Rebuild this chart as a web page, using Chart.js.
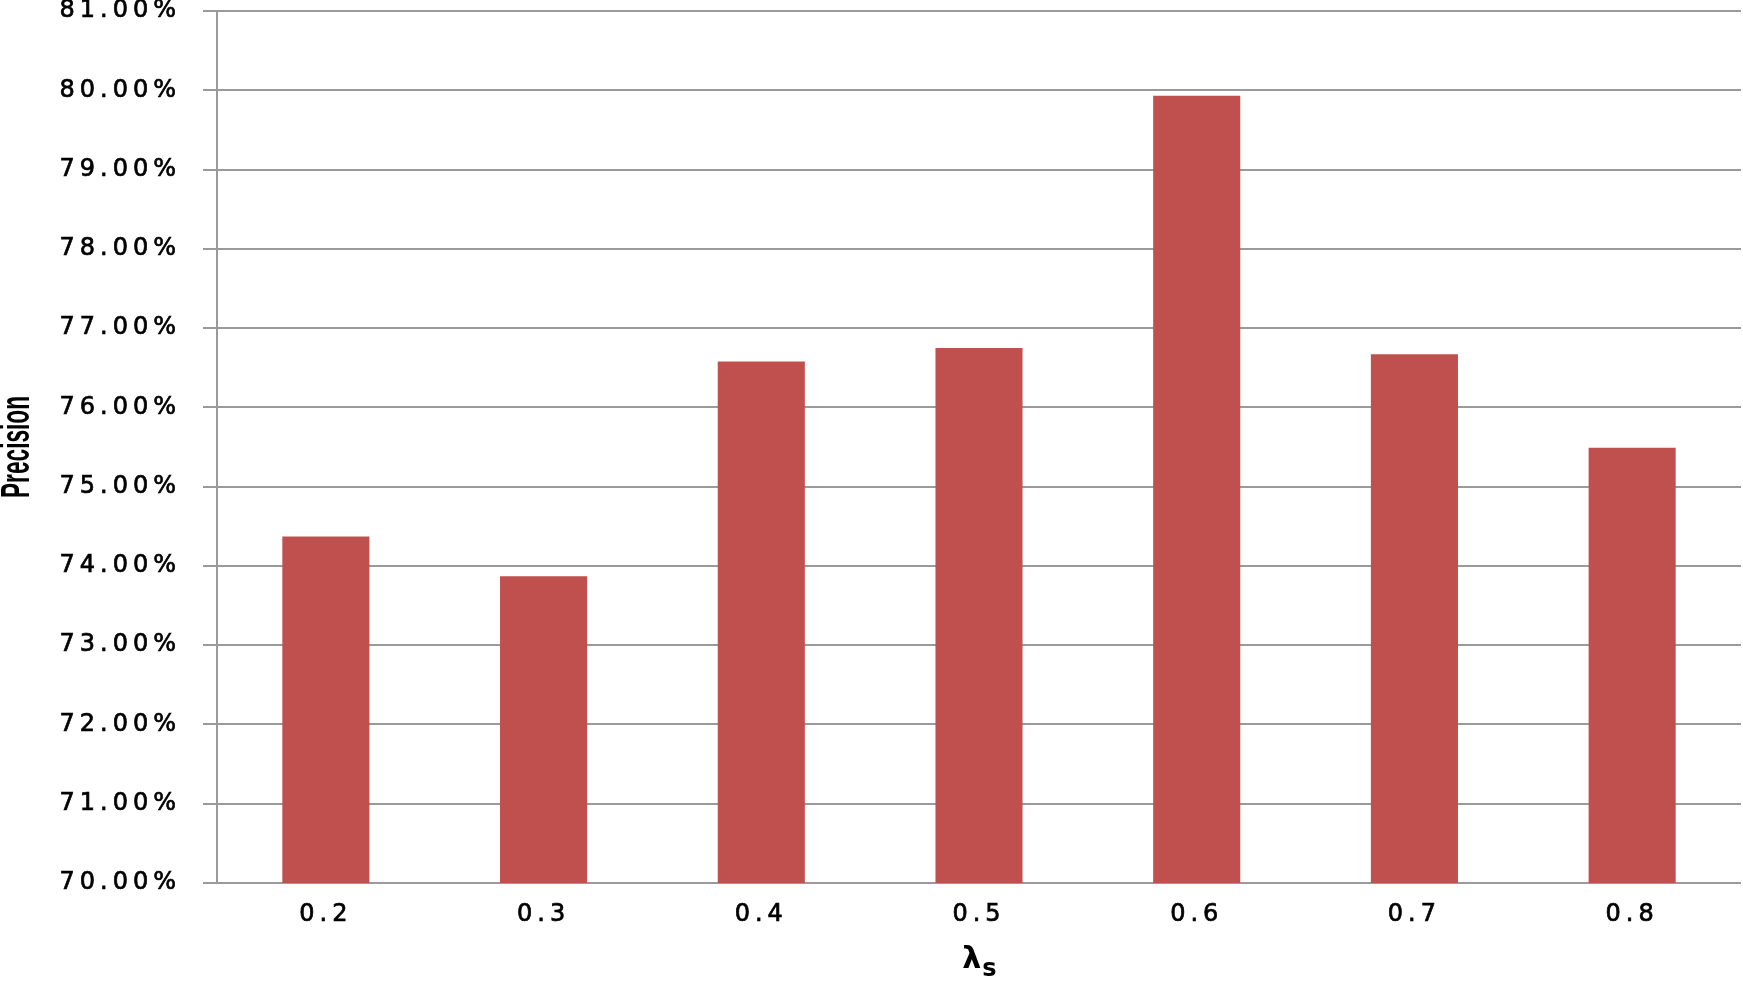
<!DOCTYPE html>
<html>
<head>
<meta charset="utf-8">
<script src="https://cdn.jsdelivr.net/npm/chart.js@4.4.0/dist/chart.umd.min.js"></script>
<style>
  html, body { margin: 0; padding: 0; background: #fff; }
  #wrap { width: 1743px; height: 987px; position: relative; }
</style>
</head>
<body>
<div id="wrap"><canvas id="precisionChart"></canvas></div>
<script>
// lambda_s values on the x axis
const categories = ['0.2', '0.3', '0.4', '0.5', '0.6', '0.7', '0.8'];
// precision (%)
const precision = [74.37, 73.87, 76.58, 76.75, 79.93, 76.67, 75.49];
// y axis range
const yMin = 70;
const yMax = 81;
const yStep = 1;
// axis titles
const yTitle = 'Precision';
const xTitleMain = 'λ';
const xTitleSub = 's';

const GRID = '#9a9a9a';
const TICK_FONT = { family: "'DejaVu Sans', sans-serif", size: 24 };
const SPACING = '5px';

// wide tick labels via letter spacing
const spacingPlugin = {
  id: 'spacing',
  beforeLayout(chart) { chart.ctx.letterSpacing = SPACING; },
  beforeDraw(chart) { chart.ctx.letterSpacing = SPACING; }
};

// axis titles: condensed "Precision" and lambda with subscript s
const titlesPlugin = {
  id: 'titles',
  afterDraw(chart) {
    const { ctx, chartArea } = chart;
    ctx.save();
    ctx.letterSpacing = '0px';
    ctx.fillStyle = '#000';

    // y title, squeezed horizontally like the original condensed font
    ctx.font = "bold 40px 'Liberation Sans', sans-serif";
    const w = ctx.measureText(yTitle).width;
    const cy = (chartArea.top + chartArea.bottom) / 2;
    ctx.save();
    ctx.translate(18, cy);
    ctx.rotate(-Math.PI / 2);
    ctx.scale(102 / w, 1);
    ctx.textAlign = 'center';
    ctx.textBaseline = 'middle';
    ctx.fillText(yTitle, 0, 0);
    ctx.restore();

    // x title
    const cx = (chartArea.left + chartArea.right) / 2;
    const mainFont = "bold 30px 'DejaVu Sans', sans-serif";
    const subFont = "bold 24px 'DejaVu Sans', sans-serif";
    ctx.font = mainFont;
    const wl = ctx.measureText(xTitleMain).width;
    ctx.font = subFont;
    const ws = ctx.measureText(xTitleSub).width;
    const x0 = cx - (wl + ws) / 2;
    ctx.textAlign = 'left';
    ctx.textBaseline = 'alphabetic';
    ctx.font = mainFont;
    ctx.fillText(xTitleMain, x0, 968);
    ctx.font = subFont;
    ctx.fillText(xTitleSub, x0 + wl + 1, 976);
    ctx.restore();
  }
};

const ctx = document.getElementById('precisionChart').getContext('2d');
new Chart(ctx, {
  type: 'bar',
  data: {
    labels: categories,
    datasets: [{
      label: 'Precision',
      data: precision,
      backgroundColor: '#c0504d',
      borderWidth: 0,
      barPercentage: 0.4,
      categoryPercentage: 1.0
    }]
  },
  options: {
    responsive: true,
    maintainAspectRatio: false,
    animation: false,
    layout: { padding: { top: 11, right: 2, left: 0, bottom: 0 } },
    plugins: {
      legend: { display: false },
      tooltip: { enabled: false }
    },
    scales: {
      x: {
        grid: { display: false, drawTicks: false },
        border: { display: false },
        ticks: { color: '#000', font: TICK_FONT, padding: 17, textStrokeColor: '#000', textStrokeWidth: 0.7 },
        afterFit(scale) { scale.height = 104; }
      },
      y: {
        min: yMin,
        max: yMax,
        grid: { color: GRID, lineWidth: 2, tickLength: 14, drawTicks: true },
        border: { display: true, color: GRID, width: 2 },
        ticks: {
          stepSize: yStep,
          color: '#000',
          font: TICK_FONT,
          padding: 22,
          textStrokeColor: '#000',
          textStrokeWidth: 0.7,
          callback: v => v.toFixed(2) + '%'
        },
        afterFit(scale) {
          scale.width = 217;
          scale.paddingTop = 0;
          scale.paddingBottom = 0;
        }
      }
    }
  },
  plugins: [spacingPlugin, titlesPlugin]
});
</script>
</body>
</html>
